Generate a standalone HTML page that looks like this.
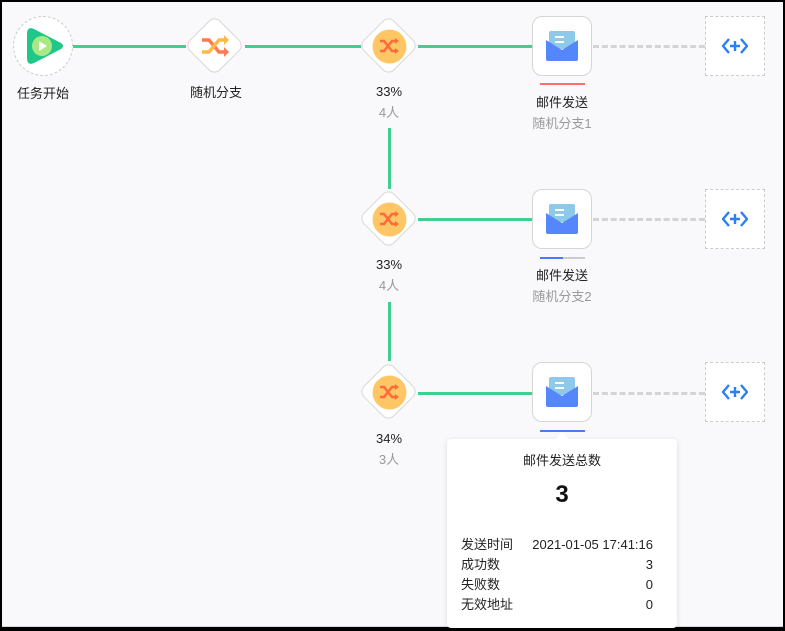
<!DOCTYPE html>
<html><head><meta charset="utf-8"><style>
*{margin:0;padding:0;box-sizing:border-box}
body{width:785px;height:631px;background:#000;position:relative;overflow:hidden;font-family:"Liberation Sans","Noto Sans CJK SC",sans-serif;line-height:16px}
#c{position:absolute;left:2px;top:2px;width:781px;height:625px;background:#f9f9fb;border-bottom:1px solid #d8d8dc}
.a{position:absolute}
.t{position:absolute;font-size:13px;line-height:16px;color:#222;text-align:center;width:120px;white-space:nowrap}
.g{color:#999}
.g1{position:absolute;background:#3fd08f}
.mail{position:absolute;width:60px;height:60px;background:#fff;border:1px solid #d6d6d6;border-radius:10px}
.add{position:absolute;width:60px;height:60px;border:1px dashed #ccc;background:#fff}
.dash{position:absolute;height:0;border-top:3px dashed #d4d4d4}
.dia{position:absolute;width:43px;height:43px;background:#fff;border:1px solid #d8d8d8;border-radius:8px;transform:rotate(45deg)}
.tip div{font-size:13px;line-height:16px;color:#222}
</style></head><body><div id="c"></div>
<div class="g1" style="left:73px;top:45px;width:113px;height:3px"></div>
<div class="g1" style="left:245px;top:45px;width:116px;height:3px"></div>
<div class="g1" style="left:418px;top:45px;width:114px;height:3px"></div>
<div class="g1" style="left:418px;top:218px;width:114px;height:3px"></div>
<div class="g1" style="left:418px;top:392px;width:114px;height:3px"></div>
<div class="g1" style="left:388px;top:128px;width:3px;height:61px"></div>
<div class="g1" style="left:388px;top:302px;width:3px;height:59px"></div>
<div class="dash" style="left:593px;top:45px;width:112px"></div>
<div class="dash" style="left:593px;top:218px;width:112px"></div>
<div class="dash" style="left:593px;top:392px;width:112px"></div>

<div class="a" style="left:13px;top:16px;width:60px;height:60px;border-radius:50%;border:1px dashed #ccc;background:#fff"></div>
<svg class="a" style="left:25px;top:26px" width="40" height="40" viewBox="0 0 40 40"><path d="M9 3 Q2 0 2 8 L2 32 Q2 40 9 37 L36 23 Q40 20 36 17 Z" fill="#1fc789"/><circle cx="17" cy="20" r="10" fill="#a8e885"/><path d="M14 15 L22 20 L14 25Z" fill="#fff"/></svg>
<div class="t" style="left:-17px;top:86px">任务开始</div>

<div class="dia" style="left:193px;top:24px"></div>
<svg class="a" style="left:200px;top:33px" width="30" height="26" viewBox="0 0 30 26"><path d="M2 7 H9 L19 19 H25" stroke="#ff7a50" stroke-width="3.5" fill="none"/><path d="M24 14 L29 19 L24 24Z" fill="#ff7a50"/><path d="M2 19 H9 L19 7 H25" stroke="#ffb94a" stroke-width="3.5" fill="none"/><path d="M24 2 L29 7 L24 12Z" fill="#ffb94a"/></svg>
<div class="t" style="left:156px;top:85px">随机分支</div>

<div class="dia" style="left:367px;top:24px"></div>
<div class="dia" style="left:367px;top:197px"></div>
<div class="dia" style="left:367px;top:370px"></div>
<svg class="a" style="left:371px;top:28px" width="37" height="37"><circle cx="18.5" cy="18.5" r="17" fill="#ffc666"/><path d="M9 13 H13 L21 23 H25 M9 23 H13 L21 13 H25" stroke="#ff6a3d" stroke-width="2.5" fill="none"/><path d="M24 10 L28 13 L24 16Z M24 20 L28 23 L24 26Z" fill="#ff6a3d"/></svg>
<svg class="a" style="left:371px;top:201px" width="37" height="37"><circle cx="18.5" cy="18.5" r="17" fill="#ffc666"/><path d="M9 13 H13 L21 23 H25 M9 23 H13 L21 13 H25" stroke="#ff6a3d" stroke-width="2.5" fill="none"/><path d="M24 10 L28 13 L24 16Z M24 20 L28 23 L24 26Z" fill="#ff6a3d"/></svg>
<svg class="a" style="left:371px;top:374px" width="37" height="37"><circle cx="18.5" cy="18.5" r="17" fill="#ffc666"/><path d="M9 13 H13 L21 23 H25 M9 23 H13 L21 13 H25" stroke="#ff6a3d" stroke-width="2.5" fill="none"/><path d="M24 10 L28 13 L24 16Z M24 20 L28 23 L24 26Z" fill="#ff6a3d"/></svg>
<div class="t" style="left:329px;top:84px">33%</div><div class="t g" style="left:329px;top:105px">4人</div>
<div class="t" style="left:329px;top:257px">33%</div><div class="t g" style="left:329px;top:278px">4人</div>
<div class="t" style="left:329px;top:431px">34%</div><div class="t g" style="left:329px;top:452px">3人</div>

<div class="mail" style="left:532px;top:16px"></div>
<div class="mail" style="left:532px;top:189px"></div>
<div class="mail" style="left:532px;top:362px"></div>
<svg class="a" style="left:545px;top:30px" width="34" height="32"><rect x="4" y="1" width="26" height="18" rx="2" fill="#8ec9ea"/><rect x="10" y="6" width="9" height="2" fill="#fff"/><rect x="10" y="11" width="9" height="2" fill="#fff"/><path d="M1 10 L17 20 L33 10 V29 Q33 31 31 31 H3 Q1 31 1 29Z" fill="#5686fc"/></svg>
<svg class="a" style="left:545px;top:203px" width="34" height="32"><rect x="4" y="1" width="26" height="18" rx="2" fill="#8ec9ea"/><rect x="10" y="6" width="9" height="2" fill="#fff"/><rect x="10" y="11" width="9" height="2" fill="#fff"/><path d="M1 10 L17 20 L33 10 V29 Q33 31 31 31 H3 Q1 31 1 29Z" fill="#5686fc"/></svg>
<svg class="a" style="left:545px;top:376px" width="34" height="32"><rect x="4" y="1" width="26" height="18" rx="2" fill="#8ec9ea"/><rect x="10" y="6" width="9" height="2" fill="#fff"/><rect x="10" y="11" width="9" height="2" fill="#fff"/><path d="M1 10 L17 20 L33 10 V29 Q33 31 31 31 H3 Q1 31 1 29Z" fill="#5686fc"/></svg>
<div class="a" style="left:540px;top:83px;width:45px;height:2px;background:#ff6e6e"></div>
<div class="a" style="left:540px;top:257px;width:45px;height:2px;background:#ccc"></div>
<div class="a" style="left:540px;top:257px;width:23px;height:2px;background:#4a7cf6"></div>
<div class="a" style="left:540px;top:430px;width:45px;height:2px;background:#4a7cf6"></div>
<div class="t" style="left:502px;top:95px">邮件发送</div><div class="t g" style="left:502px;top:116px">随机分支1</div>
<div class="t" style="left:502px;top:268px">邮件发送</div><div class="t g" style="left:502px;top:289px">随机分支2</div>

<div class="add" style="left:705px;top:16px"></div>
<div class="add" style="left:705px;top:189px"></div>
<div class="add" style="left:705px;top:362px"></div>
<svg class="a" style="left:722px;top:37px" width="26" height="18"><path d="M7 2 L1 9 L7 16 M19 2 L25 9 L19 16 M13 4 V14 M8 9 H18" stroke="#2b7ff0" stroke-width="2.4" fill="none"/></svg>
<svg class="a" style="left:722px;top:210px" width="26" height="18"><path d="M7 2 L1 9 L7 16 M19 2 L25 9 L19 16 M13 4 V14 M8 9 H18" stroke="#2b7ff0" stroke-width="2.4" fill="none"/></svg>
<svg class="a" style="left:722px;top:383px" width="26" height="18"><path d="M7 2 L1 9 L7 16 M19 2 L25 9 L19 16 M13 4 V14 M8 9 H18" stroke="#2b7ff0" stroke-width="2.4" fill="none"/></svg>

<div class="a tip" style="left:447px;top:439px;width:230px;height:189px;background:#fff;border-radius:4px;box-shadow:0 1px 6px rgba(0,0,0,0.12)">
<div class="a" style="left:0;top:14px;width:230px;text-align:center">邮件发送总数</div>
<div class="a" style="left:0;top:42px;width:230px;text-align:center;font-size:24px;line-height:28px;font-weight:bold;color:#111">3</div>
<div class="a" style="left:14px;top:98px">发送时间</div><div class="a" style="right:24px;top:98px">2021-01-05 17:41:16</div>
<div class="a" style="left:14px;top:118px">成功数</div><div class="a" style="right:24px;top:118px">3</div>
<div class="a" style="left:14px;top:138px">失败数</div><div class="a" style="right:24px;top:138px">0</div>
<div class="a" style="left:14px;top:158px">无效地址</div><div class="a" style="right:24px;top:158px">0</div>
</div>
<div class="a" style="left:557px;top:434px;width:10px;height:10px;background:#fff;transform:rotate(45deg)"></div>
</body></html>
